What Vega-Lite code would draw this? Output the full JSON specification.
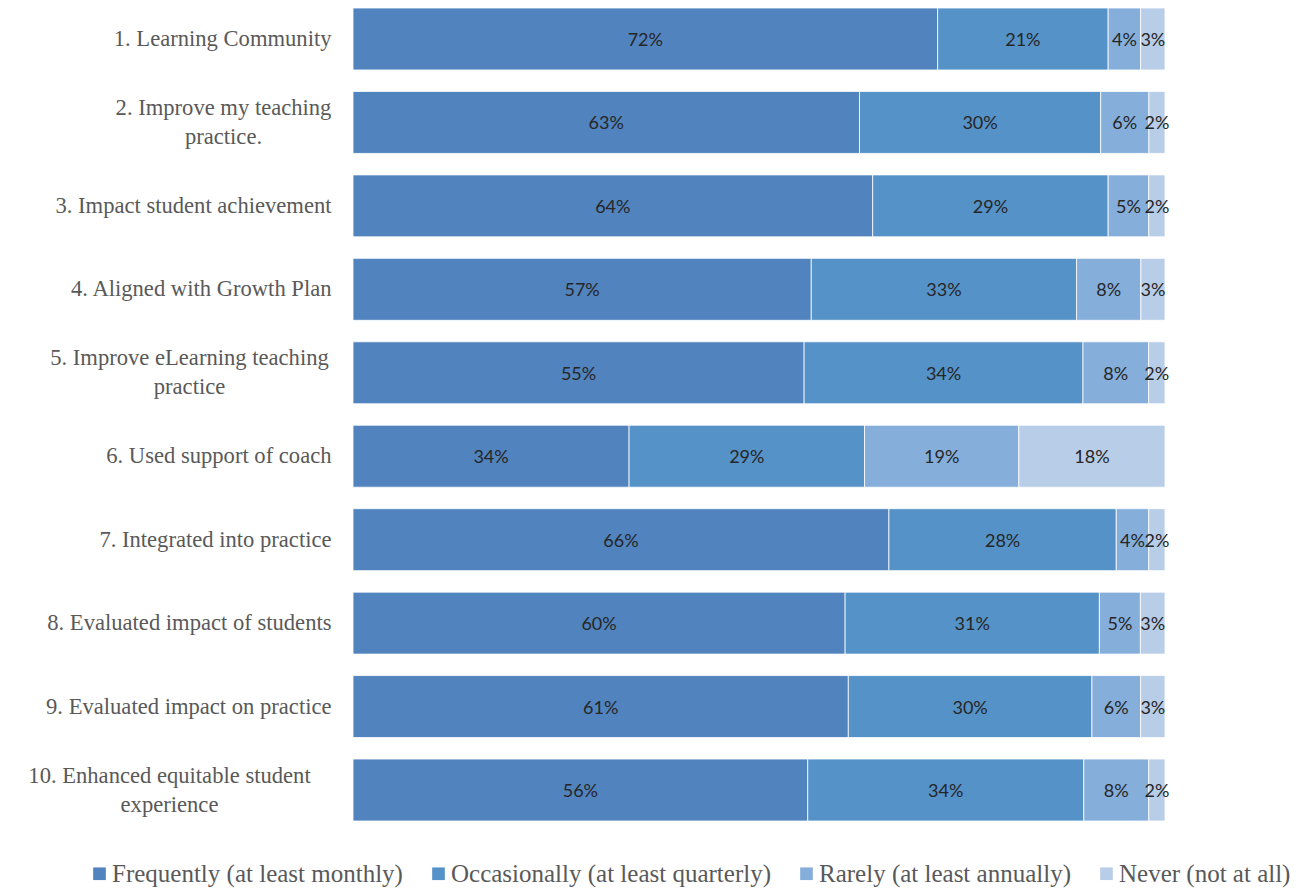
{
  "$schema": "https://vega.github.io/schema/vega-lite/v6.json",
  "width": 812,
  "height": 813,
  "autosize": {"type": "none"},
  "padding": {"left": 353, "top": 8, "right": 146, "bottom": 67},
  "background": "white",
  "config": {"view": {"stroke": null}},
  "data": {
    "values": [
      {"q": "1. Learning Community", "Frequently (at least monthly)": 72, "Occasionally (at least quarterly)": 21, "Rarely (at least annually)": 4, "Never (not at all)": 3},
      {"q": "2. Improve my teaching|practice.", "Frequently (at least monthly)": 63, "Occasionally (at least quarterly)": 30, "Rarely (at least annually)": 6, "Never (not at all)": 2},
      {"q": "3. Impact student achievement", "Frequently (at least monthly)": 64, "Occasionally (at least quarterly)": 29, "Rarely (at least annually)": 5, "Never (not at all)": 2},
      {"q": "4. Aligned with Growth Plan", "Frequently (at least monthly)": 57, "Occasionally (at least quarterly)": 33, "Rarely (at least annually)": 8, "Never (not at all)": 3},
      {"q": "5. Improve eLearning teaching|practice", "Frequently (at least monthly)": 55, "Occasionally (at least quarterly)": 34, "Rarely (at least annually)": 8, "Never (not at all)": 2},
      {"q": "6. Used support of coach", "Frequently (at least monthly)": 34, "Occasionally (at least quarterly)": 29, "Rarely (at least annually)": 19, "Never (not at all)": 18},
      {"q": "7. Integrated into practice", "Frequently (at least monthly)": 66, "Occasionally (at least quarterly)": 28, "Rarely (at least annually)": 4, "Never (not at all)": 2},
      {"q": "8. Evaluated impact of students", "Frequently (at least monthly)": 60, "Occasionally (at least quarterly)": 31, "Rarely (at least annually)": 5, "Never (not at all)": 3},
      {"q": "9. Evaluated impact on practice", "Frequently (at least monthly)": 61, "Occasionally (at least quarterly)": 30, "Rarely (at least annually)": 6, "Never (not at all)": 3},
      {"q": "10. Enhanced equitable student|experience", "Frequently (at least monthly)": 56, "Occasionally (at least quarterly)": 34, "Rarely (at least annually)": 8, "Never (not at all)": 2}
    ]
  },
  "transform": [
    {"fold": ["Frequently (at least monthly)", "Occasionally (at least quarterly)", "Rarely (at least annually)", "Never (not at all)"], "as": ["r", "v"]},
    {"calculate": "indexof(['Frequently (at least monthly)', 'Occasionally (at least quarterly)', 'Rarely (at least annually)', 'Never (not at all)'], datum.r)", "as": "k"},
    {"calculate": "datum.v + '%'", "as": "lbl"}
  ],
  "encoding": {
    "y": {
      "field": "q", "type": "nominal", "sort": null,
      "scale": {"paddingInner": 0.2575, "paddingOuter": 0},
      "axis": {
        "title": null, "domain": false, "ticks": false,
        "labelExpr": "split(datum.label, '|')",
        "labelFont": "Liberation Serif", "labelFontSize": 22.6, "labelColor": "#595959",
        "labelLineHeight": 29, "labelLimit": 400,
        "labelAlign": {"condition": {"test": "indexof(datum.value, '|') >= 0", "value": "center"}, "value": "right"},
        "labelOffset": {"condition": {"test": "indexof(datum.value, '|') >= 0", "value": -14.5}, "value": 0},
        "labelPadding": {
          "condition": [
            {"test": "datum.value == '2. Improve my teaching|practice.'", "value": 130},
            {"test": "datum.value == '5. Improve eLearning teaching|practice'", "value": 164},
            {"test": "datum.value == '10. Enhanced equitable student|experience'", "value": 184}
          ],
          "value": 22
        }
      }
    }
  },
  "layer": [
    {
      "mark": {"type": "bar", "stroke": "white", "strokeWidth": 0.8},
      "encoding": {
        "x": {"field": "v", "type": "quantitative", "stack": "normalize", "axis": null},
        "color": {
          "field": "r", "type": "nominal",
          "scale": {
            "domain": ["Frequently (at least monthly)", "Occasionally (at least quarterly)", "Rarely (at least annually)", "Never (not at all)"],
            "range": ["#5183be", "#5592c8", "#85aedb", "#b8cde8"]
          },
          "legend": {
            "title": null, "orient": "none", "direction": "horizontal",
            "legendX": -266, "legendY": 853,
            "symbolType": "square", "symbolSize": 160, "symbolStrokeWidth": 0,
            "labelFont": "Liberation Serif", "labelFontSize": 25, "labelColor": "#595959",
            "labelOffset": 0, "columnPadding": 23, "labelLimit": 500
          }
        },
        "order": {"field": "k", "type": "quantitative"}
      }
    },
    {
      "mark": {"type": "text", "font": "Lato", "fontSize": 18, "color": "#262626", "baseline": "middle", "align": "center", "dy": 2},
      "encoding": {
        "x": {"field": "v", "type": "quantitative", "stack": "normalize", "bandPosition": 0.5},
        "text": {"field": "lbl"},
        "order": {"field": "k", "type": "quantitative"}
      }
    }
  ]
}
